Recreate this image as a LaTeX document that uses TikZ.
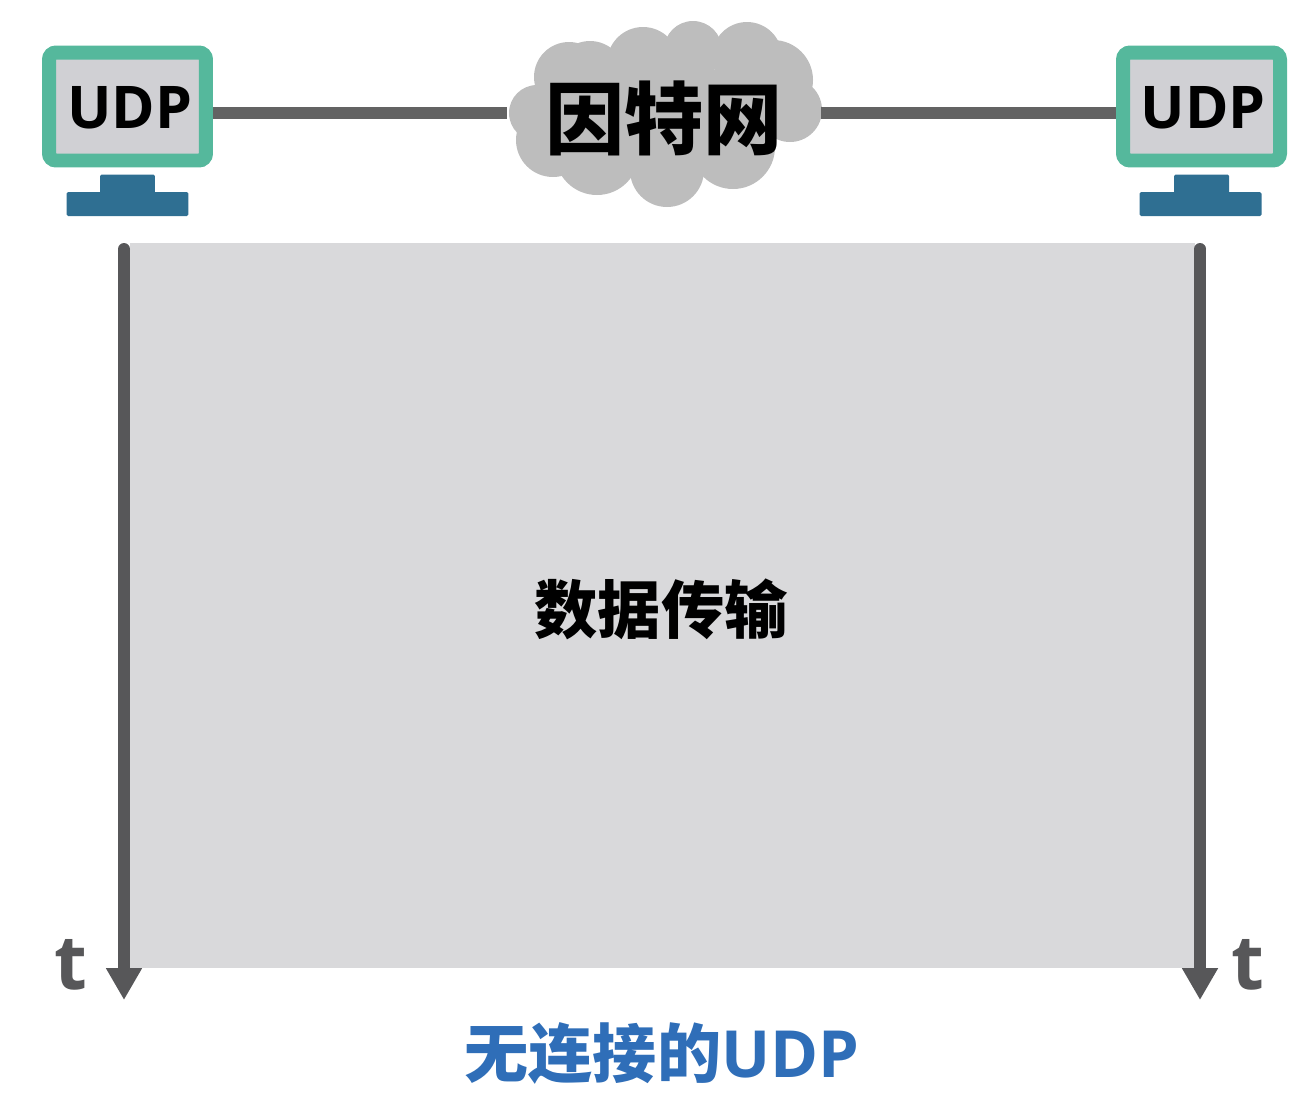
\documentclass[tikz,border=0pt]{standalone}
\usepackage{fontspec}
\setmainfont{Open Sans}
\newfontfamily\cjk{Noto Sans CJK SC}
\usetikzlibrary{arrows.meta}
\definecolor{monteal}{HTML}{55B89C}
\definecolor{monface}{HTML}{D0D0D4}
\definecolor{monfoot}{HTML}{2F6F92}
\definecolor{wiregray}{HTML}{636363}
\definecolor{axisgray}{HTML}{575759}
\definecolor{cloudgray}{HTML}{BDBDBD}
\definecolor{bandgray}{HTML}{D9D9DB}
\definecolor{capblue}{HTML}{2F6EB8}
\tikzset{
  monitor/.style={draw=monteal, fill=monface, line width=.28cm, rounded corners=.14cm, minimum width=3.14cm, minimum height=2.16cm, inner sep=0},
  hostlabel/.style={font=\fontsize{33.5}{33.5}\selectfont\bfseries},
  standpart/.style={fill=monfoot, rounded corners=.03cm, inner sep=0},
  wire/.style={wiregray, line width=.24cm},
  timeaxis/.style={axisgray, line width=.24cm, -{Triangle[length=.64cm,width=.68cm]}},
  timelabel/.style={axisgray, font=\fontsize{43}{43}\selectfont\bfseries},
}
\begin{document}
\begin{tikzpicture}[x=.02cm, y=-.02cm]
\useasboundingbox (0,0) rectangle (1304,1110);
% cloud
\fill[cloudgray] (545,70) rectangle (770,150);
\fill[cloudgray] (537,113) circle (28);
\fill[cloudgray] (569,77) circle (35);
\fill[cloudgray] (590,76) circle (35);
\fill[cloudgray] (643,63) circle (36);
\fill[cloudgray] (693,50) circle (29);
\fill[cloudgray] (747,57) circle (35);
\fill[cloudgray] (773,80) circle (40);
\fill[cloudgray] (790,110) circle (32);
\fill[cloudgray] (733,147) circle (42);
\fill[cloudgray] (667,170) circle (37);
\fill[cloudgray] (597,153) circle (42);
\fill[cloudgray] (553,140) circle (37);
\node[inner sep=0, minimum width=6.28cm, minimum height=1cm] (net) at (664,113) {};
\node[font=\cjk\fontsize{45}{45}\selectfont\bfseries] (nettext) at (664,118) {因特网};
% hosts
\node[monitor] (monL) at (127.5,106.5) {};
\node[monitor] (monR) at (1201.5,106.5) {};
\node[hostlabel] (udpL) at (130,108) {UDP};
\node[hostlabel] (udpR) at (1203,108) {UDP};
\node[standpart, minimum width=1.1cm, minimum height=.42cm] (neckL) at (127.5,185) {};
\node[standpart, minimum width=2.44cm, minimum height=.48cm] (footL) at (127.5,204) {};
\node[standpart, minimum width=1.1cm, minimum height=.42cm] (neckR) at (1201.5,185) {};
\node[standpart, minimum width=2.44cm, minimum height=.48cm] (footR) at (1200.5,204) {};
\draw[wire] (monL.east |- net.west) -- (net.west);
\draw[wire] (net.east) -- (monR.west |- net.east);
% transfer
\node[fill=bandgray, inner sep=0, minimum width=21.3cm, minimum height=14.5cm] (band) at (662.5,605.5) {};
\node[font=\cjk\fontsize{36}{36}\selectfont\bfseries] (bandtext) at (661,609) {数据传输};
\coordinate (topL) at (124,249);
\coordinate (endL) at (124,1000);
\coordinate (topR) at (1200,249);
\coordinate (endR) at (1200,1000);
\fill[axisgray] (topL) circle (6);
\fill[axisgray] (topR) circle (6);
\draw[timeaxis] (topL) -- (endL);
\draw[timeaxis] (topR) -- (endR);
\node[timelabel] (tL) at (71,965) {t};
\node[timelabel] (tR) at (1248,965) {t};
\node[capblue, font=\fontsize{37}{37}\selectfont\bfseries] (caption) at (662,1053) {{\cjk\fontsize{36.5}{37}\selectfont 无连接的}UDP};
\end{tikzpicture}
\end{document}
